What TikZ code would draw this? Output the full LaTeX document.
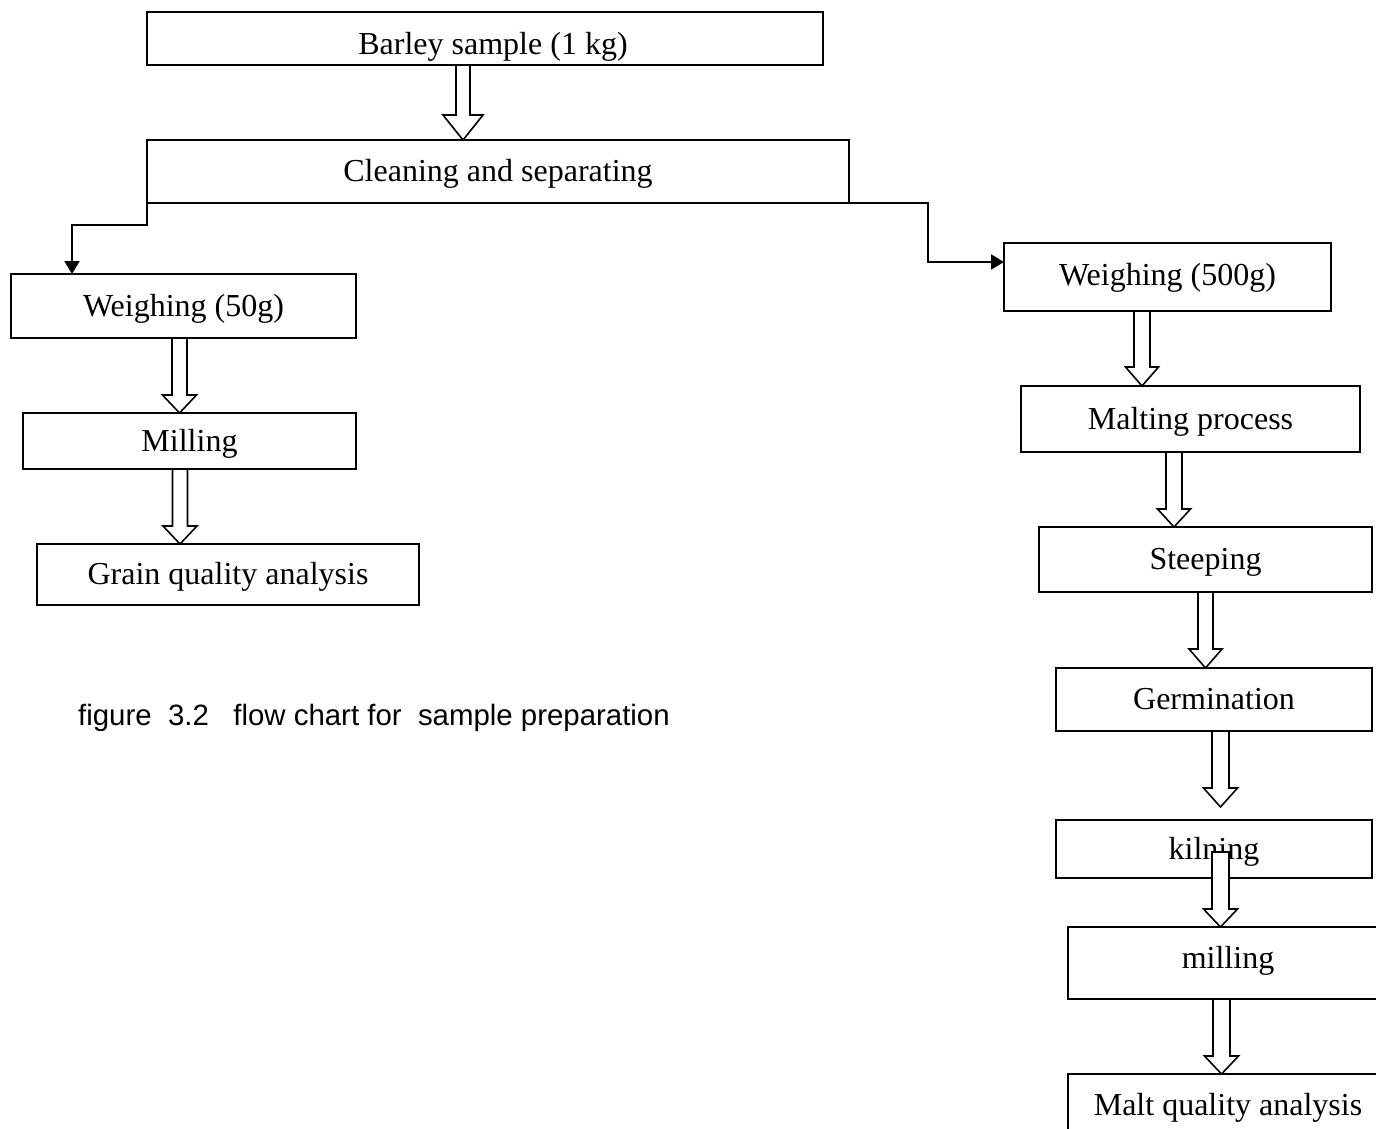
\documentclass[tikz,border=0pt]{standalone}
\usepackage{fontspec}
\setmainfont{Liberation Serif}
\newfontfamily\capfont{Liberation Sans}
\usetikzlibrary{arrows.meta,calc}
\tikzset{
  box/.style={draw, line width=1.8pt, rectangle, inner sep=0pt, outer sep=0pt,
    font=\fontsize{32pt}{38pt}\selectfont, text height=24pt, text depth=4pt},
  harrow/.style={draw, fill=white, line width=1.6pt, line join=miter},
  conn/.style={line width=2pt, -{Triangle[length=13pt,width=15pt]}},
}
% #1 x of axis, #2 start point, #3 end point, #4 half shaft, #5 half head, #6 head length
\newcommand\hollowarrow[6]{%
  \path[harrow] let \p1=#2, \p2=#3 in
    (#1pt-#4pt,\y1) -- (#1pt-#4pt,\y2+#6pt) -- (#1pt-#5pt,\y2+#6pt) -- (#1pt,\y2)
    -- (#1pt+#5pt,\y2+#6pt) -- (#1pt+#4pt,\y2+#6pt) -- (#1pt+#4pt,\y1) -- cycle;}
\begin{document}
\begin{tikzpicture}[x=1pt,y=-1pt]
\useasboundingbox (0,0) rectangle (1376,1128);
\fill[white] (0,0) rectangle (1376,1128);
\clip (0,0) rectangle (1376,1128);

% left branch and top
\node[box, minimum width=676pt, minimum height=53pt] (barley) at (485,38.5)
  {\hspace*{16pt}\raisebox{-6pt}{Barley sample (1 kg)}};
\node[box, minimum width=702pt, minimum height=63pt] (clean) at (498,171.5) {Cleaning and separating};
\node[box, minimum width=345pt, minimum height=64pt] (w50) at (183.5,306) {Weighing (50g)};
\node[box, minimum width=333pt, minimum height=56pt] (mill) at (189.5,441) {Milling};
\node[box, minimum width=382pt, minimum height=61pt] (grain) at (228,574.5) {Grain quality analysis};

% right branch
\node[box, minimum width=327pt, minimum height=68pt] (w500) at (1167.5,277) {\raisebox{2pt}{Weighing (500g)}};
\node[box, minimum width=339pt, minimum height=66pt] (malt) at (1190.5,419) {Malting process};
\node[box, minimum width=333pt, minimum height=65pt] (steep) at (1205.5,559.5) {Steeping};
\node[box, minimum width=316pt, minimum height=63pt] (germ) at (1214,699.5) {Germination};
\node[box, minimum width=316pt, minimum height=58pt] (kiln) at (1214,849) {kilning};
\node[box, minimum width=320pt, minimum height=72pt] (mill2) at (1228,963) {\raisebox{5pt}{milling}};
\node[box, minimum width=320pt, minimum height=66pt] (maltq) at (1228,1107) {\raisebox{2pt}{Malt quality analysis}};

% caption
\node[anchor=base west, inner sep=0pt, font=\capfont\fontsize{29.4pt}{35pt}\selectfont] (cap) at (78,725)
  {figure\ \ 3.2\ \ \ flow chart for\ \ sample preparation};

% hollow arrows
\hollowarrow{463}{(barley.south)}{(clean.north)}{7}{20}{25}
\hollowarrow{179.5}{(w50.south)}{(mill.north)}{7.5}{17}{18}
\hollowarrow{180}{(mill.south)}{(grain.north)}{7.5}{17}{18}
\hollowarrow{1142}{(w500.south)}{(malt.north)}{8}{16.5}{19}
\hollowarrow{1174}{(malt.south)}{(steep.north)}{8}{16.5}{18}
\hollowarrow{1205.5}{(steep.south)}{(germ.north)}{7.5}{16.5}{19}
\hollowarrow{1220.5}{(germ.south)}{($(kiln.north)+(0,-13)$)}{8.5}{17}{19}
\hollowarrow{1220.5}{($(kiln.center)+(0,3)$)}{(mill2.north)}{8.5}{17}{18}
\hollowarrow{1221.5}{(mill2.south)}{(maltq.north)}{8.5}{17}{18}

% branch connectors
\draw[conn] (clean.south west) -- ++(0,22) -| ($(w50.north west)+(61,0)$);
\draw[conn] (clean.south east) -- ++(79,0) |- ($(w500.north west)+(0,19)$);
\end{tikzpicture}
\end{document}
